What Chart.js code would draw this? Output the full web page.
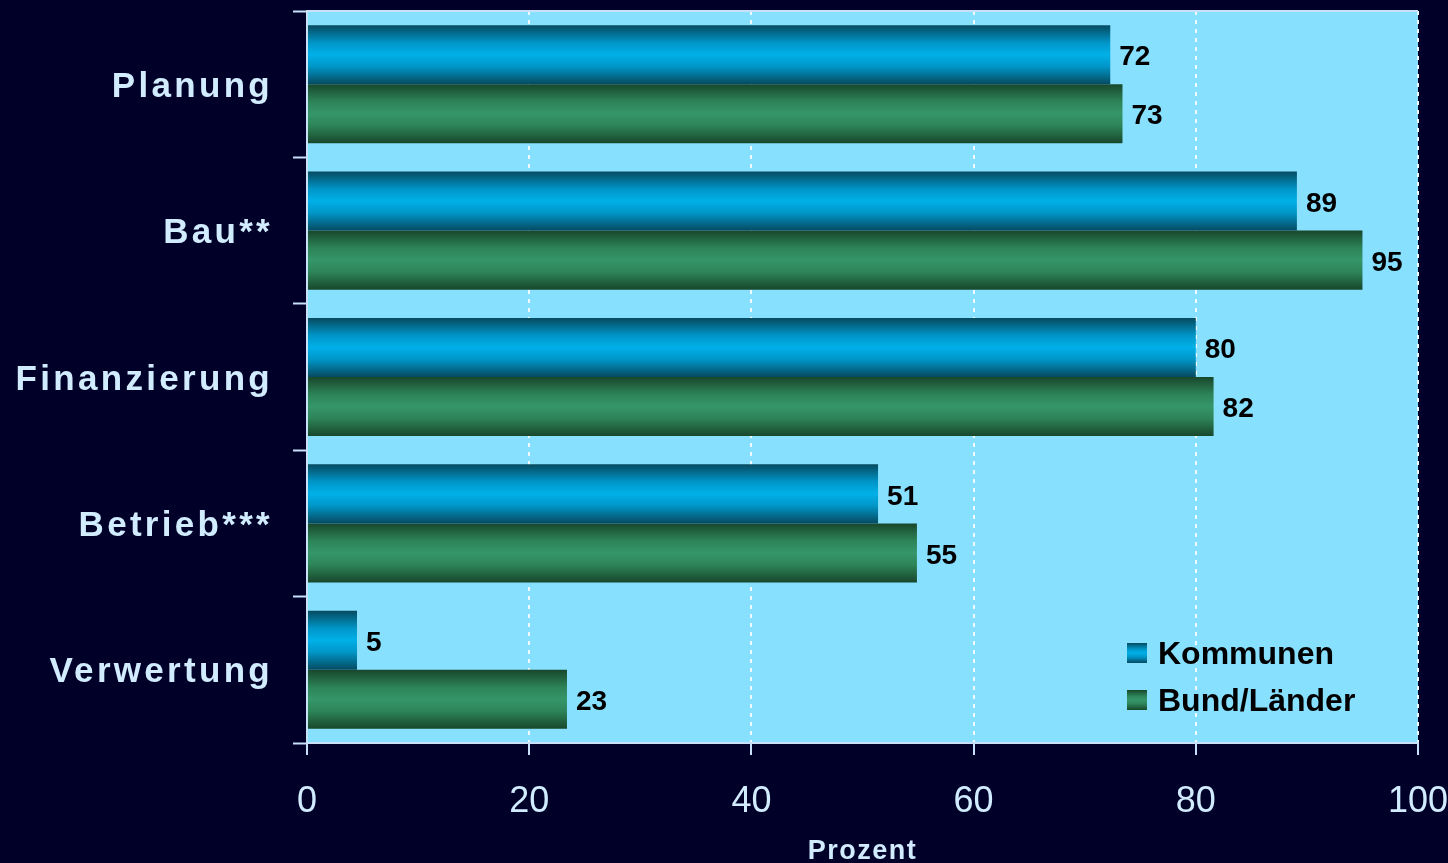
<!DOCTYPE html>
<html>
<head>
<meta charset="utf-8">
<script src="https://cdn.jsdelivr.net/npm/chart.js@4.4.1/dist/chart.umd.min.js"></script>
<style>
  html, body { margin: 0; padding: 0; background: #000028; }
  #wrap { width: 1448px; height: 863px; }
</style>
</head>
<body>
<div id="wrap"><canvas id="myChart"></canvas></div>
<script>
let categories = ["Planung", "Bau**", "Finanzierung", "Betrieb***", "Verwertung"];
let seriesNames = ["Kommunen", "Bund/Länder"];
let kommunenValues = [72.3, 89.1, 80.0, 51.4, 4.5];
let bundLaenderValues = [73.4, 95.0, 81.6, 54.9, 23.4];
let xTicks = [0, 20, 40, 60, 80, 100];

let catPct = 0.807;
let lightText = "#d2ecff";
let axisColor = "#c8e0f8";

let blueStops = ["#064a60", "#0096c8", "#00b0e8", "#0096c8", "#064a60"];
let greenStops = ["#18472c", "#2d8458", "#35966a", "#2d8458", "#18472c"];

function makeGradient(ctx, top, height, stops) {
  let g = ctx.createLinearGradient(0, top, 0, top + height);
  g.addColorStop(0, stops[0]);
  g.addColorStop(0.3, stops[1]);
  g.addColorStop(0.5, stops[2]);
  g.addColorStop(0.7, stops[3]);
  g.addColorStop(1, stops[4]);
  return g;
}

function barFill(context) {
  let chart = context.chart;
  let yScale = chart.scales.y;
  let stops = context.datasetIndex === 0 ? blueStops : greenStops;
  if (!yScale || !chart.chartArea) return stops[2];
  let band = (yScale.bottom - yScale.top) / categories.length;
  let thick = band * catPct / 2;
  let center = yScale.getPixelForValue(context.dataIndex);
  let top = context.datasetIndex === 0 ? center - thick : center;
  return makeGradient(chart.ctx, top, thick, stops);
}

// background, plot area fill, top line
let backgroundPlugin = {
  id: "background",
  beforeDraw(chart) {
    let ctx = chart.ctx;
    let a = chart.chartArea;
    ctx.save();
    ctx.fillStyle = "#000028";
    ctx.fillRect(0, 0, chart.width, chart.height);
    ctx.fillStyle = "#88e0ff";
    ctx.fillRect(a.left, a.top, a.right - a.left, a.bottom - a.top);
    ctx.restore();
  },
  afterDraw(chart) {
    let ctx = chart.ctx;
    let a = chart.chartArea;
    ctx.save();
    ctx.strokeStyle = axisColor;
    ctx.lineWidth = 2;
    ctx.beginPath();
    ctx.moveTo(a.left, a.top);
    ctx.lineTo(a.right, a.top);
    ctx.stroke();
    ctx.restore();
  },
};

// the original labels are letter-spaced
let spacingPlugin = {
  id: "spacing",
  afterLayout(chart) {
    let y = chart.scales.y;
    if (!y._spaced) {
      let origLabels = y.drawLabels;
      y.drawLabels = function (area) {
        chart.ctx.letterSpacing = "3.3px";
        origLabels.call(this, area);
        chart.ctx.letterSpacing = "0px";
      };
      y._spaced = true;
    }
    let x = chart.scales.x;
    if (!x._spaced) {
      let origTitle = x.drawTitle;
      x.drawTitle = function () {
        chart.ctx.letterSpacing = "1.5px";
        origTitle.call(this);
        chart.ctx.letterSpacing = "0px";
      };
      x._spaced = true;
    }
  },
};

let valueLabelPlugin = {
  id: "valueLabels",
  afterDatasetsDraw(chart) {
    let ctx = chart.ctx;
    ctx.save();
    ctx.font = "bold 28px 'Liberation Sans', Arial, sans-serif";
    ctx.fillStyle = "#000000";
    ctx.textAlign = "left";
    ctx.textBaseline = "middle";
    chart.data.datasets.forEach((ds, di) => {
      let meta = chart.getDatasetMeta(di);
      meta.data.forEach((bar, i) => {
        ctx.fillText(String(Math.round(ds.data[i])), bar.x + 9, bar.y + 3);
      });
    });
    ctx.restore();
  },
};

let legendPlugin = {
  id: "insideLegend",
  afterDraw(chart) {
    let ctx = chart.ctx;
    let left = 1127;
    let rows = [653, 700];
    ctx.save();
    ctx.font = "bold 32px 'Liberation Sans', Arial, sans-serif";
    ctx.textBaseline = "middle";
    ctx.textAlign = "left";
    chart.data.datasets.forEach((ds, di) => {
      let cy = rows[di];
      let stops = di === 0 ? blueStops : greenStops;
      ctx.fillStyle = makeGradient(ctx, cy - 10, 20, stops);
      ctx.fillRect(left, cy - 10, 20, 20);
      ctx.fillStyle = "#000000";
      ctx.fillText(ds.label, left + 31, cy + 2);
    });
    ctx.restore();
  },
};

const ctx = document.getElementById("myChart");

new Chart(ctx, {
  type: "bar",
  data: {
    labels: categories,
    datasets: [
      {
        label: seriesNames[0],
        data: kommunenValues,
        backgroundColor: barFill,
        borderWidth: 0,
        barPercentage: 1,
        categoryPercentage: catPct,
      },
      {
        label: seriesNames[1],
        data: bundLaenderValues,
        backgroundColor: barFill,
        borderWidth: 0,
        barPercentage: 1,
        categoryPercentage: catPct,
      },
    ],
  },
  options: {
    indexAxis: "y",
    responsive: true,
    maintainAspectRatio: false,
    animation: false,
    devicePixelRatio: 1,
    layout: {
      padding: { top: 11, right: 30, bottom: 0, left: 0 },
    },
    plugins: {
      legend: { display: false },
      tooltip: { enabled: false },
    },
    scales: {
      x: {
        min: 0,
        max: 100,
        afterBuildTicks: (axis) => {
          axis.ticks = xTicks.map((v) => ({ value: v }));
        },
        afterFit: (axis) => {
          axis.height = 120;
          axis.paddingLeft = 0;
          axis.paddingRight = 0;
        },
        grid: {
          color: (c) => (c.tick && c.tick.value === 0 ? "rgba(0,0,0,0)" : "#eefaff"),
          lineWidth: 2,
          tickColor: axisColor,
          tickWidth: 2,
          tickLength: 12,
        },
        border: {
          color: axisColor,
          width: 2,
          dash: [4, 5],
          z: 1,
        },
        ticks: {
          color: lightText,
          padding: 25,
          font: { family: "'Liberation Sans', Arial, sans-serif", size: 36 },
          maxRotation: 0,
        },
        title: {
          display: true,
          text: "Prozent",
          color: lightText,
          padding: { top: 0, bottom: -5 },
          font: { family: "'Liberation Sans', Arial, sans-serif", size: 27, weight: "bold" },
        },
      },
      y: {
        afterFit: (axis) => {
          axis.width = 307;
          axis.paddingTop = 0;
          axis.paddingBottom = 0;
        },
        grid: {
          offset: true,
          drawOnChartArea: false,
          tickColor: axisColor,
          tickWidth: 2,
          tickLength: 14,
        },
        border: {
          color: axisColor,
          width: 2,
          z: 1,
        },
        ticks: {
          color: lightText,
          padding: 20,
          labelOffset: 3,
          font: { family: "'Liberation Sans', Arial, sans-serif", size: 35, weight: "bold" },
        },
      },
    },
  },
  plugins: [backgroundPlugin, spacingPlugin, valueLabelPlugin, legendPlugin],
});
</script>
</body>
</html>
